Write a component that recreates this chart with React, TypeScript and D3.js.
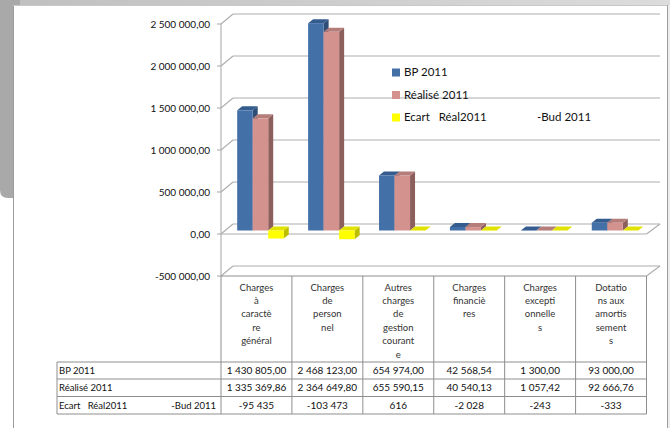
import React from "react";
import * as d3 from "d3";

// ---- data ----
const categories = [
  "Charges à caractère général",
  "Charges de personnel",
  "Autres charges de gestion courante",
  "Charges financières",
  "Charges exceptionnelles",
  "Dotations aux amortissements",
];
const categoryLines = [
  ["Charges", "à", "caractè", "re", "général"],
  ["Charges", "de", "person", "nel"],
  ["Autres", "charges", "de", "gestion", "courant", "e"],
  ["Charges", "financiè", "res"],
  ["Charges", "excepti", "onnelle", "s"],
  ["Dotatio", "ns aux", "amortis", "sement", "s"],
];
const seriesNames = ["BP 2011", "Réalisé 2011", "Ecart   Réal2011"];
const seriesSuffix = ["", "", "-Bud 2011"];
const bp = [1430805.0, 2468123.0, 654974.0, 42568.54, 1300.0, 93000.0];
const realise = [1335369.86, 2364649.8, 655590.15, 40540.13, 1057.42, 92666.76];
const ecart = [-95435, -103473, 616, -2028, -243, -333];
const yTicks = [-500000, 0, 500000, 1000000, 1500000, 2000000, 2500000];

const frontColors = ["#4470A8", "#D4928F", "#FFFF00"];
const topColors = ["#345C8E", "#B47D7A", "#E2E200"];
const sideColors = ["#2E4E77", "#8C5F5D", "#BEBE00"];

const W = 670;
const H = 428;

export default function App() {
  const fr = d3.formatLocale({
    decimal: ",",
    thousands: " ",
    grouping: [3],
    currency: ["", ""],
    minus: "-",
  });
  const fAxis = fr.format(",.2f");
  const fInt = fr.format(",.0f");
  const values = [bp, realise, ecart];
  const rowText = [bp.map(fAxis), realise.map(fAxis), ecart.map(fInt)];

  const plotLeft = 221;
  const plotRight = 646.5;
  const x0 = d3.scaleBand<string>().domain(categories).range([plotLeft, plotRight]);
  const xs = d3
    .scaleBand<string>()
    .domain(seriesNames)
    .range([0, x0.bandwidth()])
    .paddingInner(0)
    .paddingOuter(0.785);
  const y = d3.scaleLinear().domain([-500000, 2500000]).range([276, 24]);

  const back = { dx: 12, dy: -10 };
  const plane = { dx: 4, dy: -3.5 };
  const depth = { dx: 5, dy: -4 };

  const gridColor = "#ADADAD";
  const tableColor = "#8E8E8E";
  const font = "Lato, 'Liberation Sans', sans-serif";

  // table geometry
  const tableTop = y(-500000);
  const rowYs = [362, 379, 396.5, 414];
  const labelLeft = 57;
  const colEdges = [...categories.map((c) => x0(c) as number), plotRight];

  const bars: React.ReactNode[] = [];
  categories.forEach((c, ci) => {
    seriesNames.forEach((s, si) => {
      const v = values[si][ci];
      const x = (x0(c) as number) + (xs(s) as number) + plane.dx;
      const w = xs.bandwidth();
      const ya = y(0) + plane.dy;
      const yb = y(v) + plane.dy;
      const top = Math.min(ya, yb);
      const bot = Math.max(ya, yb);
      const topFace = [
        [x, top],
        [x + depth.dx, top + depth.dy],
        [x + w + depth.dx, top + depth.dy],
        [x + w, top],
      ];
      const sideFace = [
        [x + w, top],
        [x + w + depth.dx, top + depth.dy],
        [x + w + depth.dx, bot + depth.dy],
        [x + w, bot],
      ];
      bars.push(
        <g key={`${ci}-${si}`}>
          <polygon points={sideFace.map((p) => p.join(",")).join(" ")} fill={sideColors[si]} />
          <polygon points={topFace.map((p) => p.join(",")).join(" ")} fill={topColors[si]} />
          <rect x={x} y={top} width={w} height={Math.max(bot - top, 0.01)} fill={frontColors[si]} />
        </g>
      );
    });
  });

  return (
    <svg
      width={W}
      height={H}
      style={{ position: "absolute", left: 0, top: 0, background: "#fff" }}
      fontFamily={font}
    >
      <defs>
        <linearGradient id="topStrip" x1="0" x2="1" y1="0" y2="0">
          <stop offset="0" stopColor="#bfbfbf" />
          <stop offset="1" stopColor="#dcdcdc" />
        </linearGradient>
      </defs>
      {/* frame */}
      <rect x={0} y={0} width={W} height={H} fill="#fff" />
      <rect x={0} y={0} width={W} height={5} fill="url(#topStrip)" />
      <path d="M0,0 H20 V198 H8 Q0,198 0,190 Z" fill="#a9a9a9" />
      <rect x={13} y={5} width={655} height={H} fill="#fff" />
      <line x1={13.5} y1={5} x2={13.5} y2={H} stroke="#9c9c9c" />
      <line x1={13} y1={5.5} x2={668} y2={5.5} stroke="#c8c8c8" />
      <line x1={667.5} y1={5} x2={667.5} y2={H} stroke="#a0a0a0" />
      <rect x={668} y={5} width={2} height={H} fill="#ececec" />

      {/* back wall gridlines with side diagonals */}
      {yTicks.map((t) => (
        <g key={t} stroke={gridColor} strokeWidth={1.1}>
          <line x1={plotLeft + back.dx} y1={y(t) + back.dy} x2={plotRight + 13.5} y2={y(t) + back.dy} />
          <line x1={plotLeft} y1={y(t)} x2={plotLeft + back.dx} y2={y(t) + back.dy} />
          <line x1={plotLeft - 4} y1={y(t)} x2={plotLeft} y2={y(t)} />
        </g>
      ))}
      {/* floor at zero */}
      <g stroke={gridColor} strokeWidth={1.1}>
        <line x1={plotLeft} y1={y(0)} x2={plotRight} y2={y(0)} />
        <line x1={plotRight} y1={y(0)} x2={plotRight + 13.5} y2={y(0) + back.dy} />
        <line x1={plotRight} y1={y(-500000)} x2={plotRight + 13.5} y2={y(-500000) + back.dy} />
      </g>
      {/* vertical axis */}
      <line x1={plotLeft} y1={y(2500000)} x2={plotLeft} y2={y(-500000)} stroke={gridColor} strokeWidth={1.1} />
      {yTicks.map((t) => (
        <text key={t} x={210} y={y(t) + 4} textAnchor="end" fontSize={10} fill="#111">
          {fAxis(t)}
        </text>
      ))}

      {/* bars */}
      {bars}

      {/* legend */}
      {seriesNames.map((s, i) => {
        const by = 76 + i * 22.5;
        return (
          <g key={s}>
            <rect x={392} y={by - 7.5} width={8} height={8} fill={frontColors[i]} />
            <text x={404} y={by} fontSize={11.5} fill="#111" xmlSpace="preserve" style={{ whiteSpace: "pre" }}>
              {s}
            </text>
            {seriesSuffix[i] && (
              <text x={537} y={by} fontSize={11.5} fill="#111">
                {seriesSuffix[i]}
              </text>
            )}
          </g>
        );
      })}

      {/* data table */}
      <g stroke={tableColor} strokeWidth={1}>
        <line x1={plotLeft} y1={tableTop} x2={plotRight} y2={tableTop} />
        {colEdges.map((cx, i) => (
          <line key={i} x1={cx} y1={tableTop} x2={cx} y2={rowYs[3]} />
        ))}
        {rowYs.map((ry, i) => (
          <line key={"r" + i} x1={labelLeft} y1={ry} x2={plotRight} y2={ry} />
        ))}
        <line x1={labelLeft} y1={rowYs[0]} x2={labelLeft} y2={rowYs[3]} />
      </g>
      {categoryLines.map((lines, ci) => (
        <text
          key={ci}
          x={(x0(categories[ci]) as number) + x0.bandwidth() / 2}
          textAnchor="middle"
          fontSize={9.5}
          fill="#333"
        >
          {lines.map((l, li) => (
            <tspan key={li} x={(x0(categories[ci]) as number) + x0.bandwidth() / 2} y={290.5 + li * 13.4}>
              {l}
            </tspan>
          ))}
        </text>
      ))}
      {seriesNames.map((s, si) => {
        const cy = (rowYs[si] + rowYs[si + 1]) / 2 + 3.5;
        return (
          <g key={s}>
            <text x={59} y={cy} fontSize={9.5} fill="#111" style={{ whiteSpace: "pre" }}>
              {s}
            </text>
            {seriesSuffix[si] && (
              <text x={216} y={cy} fontSize={9.5} textAnchor="end" fill="#111">
                {seriesSuffix[si]}
              </text>
            )}
            {rowText[si].map((t, ci) => (
              <text
                key={ci}
                x={(x0(categories[ci]) as number) + x0.bandwidth() / 2}
                y={cy}
                textAnchor="middle"
                fontSize={10}
                fill="#111"
              >
                {t}
              </text>
            ))}
          </g>
        );
      })}
    </svg>
  );
}
